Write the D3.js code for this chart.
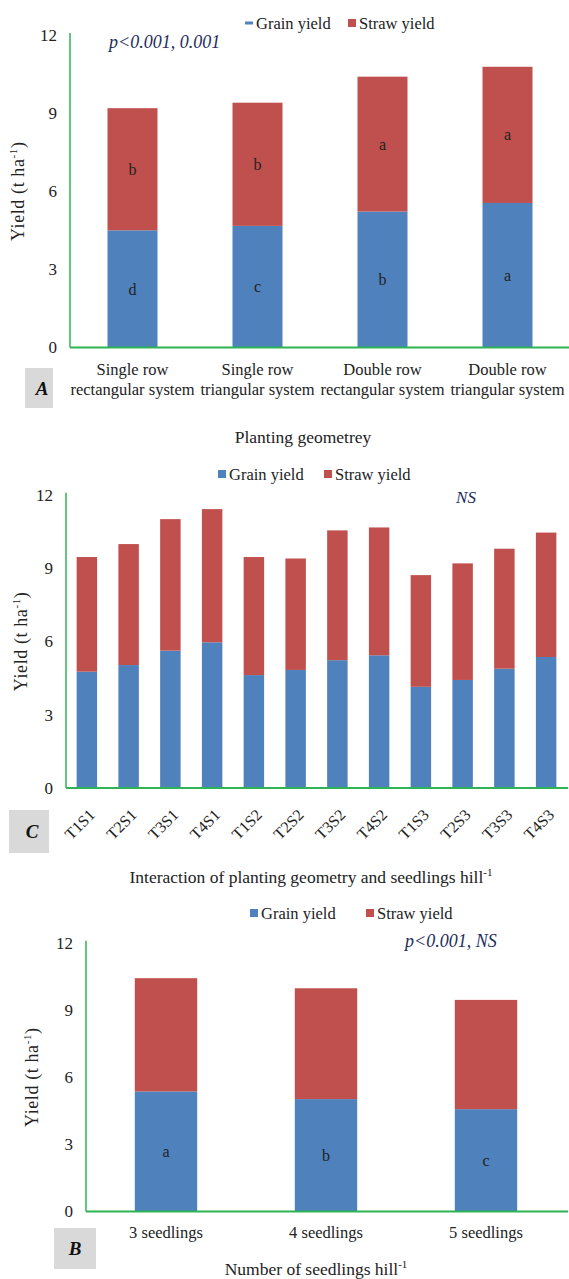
<!DOCTYPE html>
<html>
<head>
<meta charset="utf-8">
<script src="https://cdn.jsdelivr.net/npm/d3@7"></script>
<style>
  html, body { margin: 0; padding: 0; background: #fff; }
  svg { display: block; }
  text { font-family: "Liberation Serif", "Times New Roman", serif; fill: #222; }
</style>
</head>
<body>
<svg id="chart" width="569" height="1279"></svg>
<script>
// Yield (t ha-1) split into grain and straw, three panels
const yTicks = [0, 3, 6, 9, 12];
const seriesNames = ["Grain yield", "Straw yield"];
const seriesColors = ["#4f81bd", "#c0504d"];

// Panel A: planting geometry
const geometryCats = [
  ["Single row", "rectangular system"],
  ["Single row", "triangular system"],
  ["Double row", "rectangular system"],
  ["Double row", "triangular system"]
];
const geometryGrain = [4.50, 4.67, 5.22, 5.55];
const geometryStraw = [4.69, 4.73, 5.18, 5.23];
const geometryGrainLetters = ["d", "c", "b", "a"];
const geometryStrawLetters = ["b", "b", "a", "a"];

// Panel C: interaction of geometry and seedlings per hill
const interactionCats = ["T1S1", "T2S1", "T3S1", "T4S1", "T1S2", "T2S2",
                         "T3S2", "T4S2", "T1S3", "T2S3", "T3S3", "T4S3"];
const interactionGrain = [4.76, 5.03, 5.62, 5.96, 4.62, 4.83, 5.23, 5.43, 4.14, 4.42, 4.88, 5.36];
const interactionStraw = [4.69, 4.95, 5.38, 5.45, 4.83, 4.56, 5.31, 5.23, 4.57, 4.77, 4.91, 5.09];

// Panel B: seedlings per hill
const seedlingCats = ["3 seedlings", "4 seedlings", "5 seedlings"];
const seedlingGrain = [5.36, 5.02, 4.57];
const seedlingStraw = [5.06, 4.95, 4.88];
const seedlingGrainLetters = ["a", "b", "c"];

const svg = d3.select("#chart");

function drawPanel(p) {
  const g = svg.append("g");
  const x = d3.scaleBand().domain(p.cats.map((c, i) => i)).range([p.left, p.right]).padding(0);
  const y = d3.scaleLinear().domain([0, 12]).range([p.y0, p.y12]);
  const bw = x.bandwidth() * p.barFrac;
  const bx = i => x(i) + (x.bandwidth() - bw) / 2;
  const cx = i => x(i) + x.bandwidth() / 2;

  // stacked bars
  const rows = p.cats.map((c, i) => ({ i, grain: p.grain[i], straw: p.straw[i] }));
  const stacked = d3.stack().keys(["grain", "straw"])(rows);
  stacked.forEach((layer, k) => {
    g.selectAll(null).data(layer).join("rect")
      .attr("x", d => bx(d.data.i))
      .attr("width", bw)
      .attr("y", d => y(d[1]))
      .attr("height", d => y(d[0]) - y(d[1]))
      .attr("fill", seriesColors[k]);
  });

  // significance letters at the middle of each segment
  if (p.grainLetters) {
    g.selectAll(null).data(rows).join("text")
      .attr("x", d => cx(d.i)).attr("y", d => y(d.grain / 2))
      .attr("dy", "0.35em").attr("text-anchor", "middle")
      .attr("font-size", 16).text(d => p.grainLetters[d.i]);
  }
  if (p.strawLetters) {
    g.selectAll(null).data(rows).join("text")
      .attr("x", d => cx(d.i)).attr("y", d => y(d.grain + d.straw / 2))
      .attr("dy", "0.35em").attr("text-anchor", "middle")
      .attr("font-size", 16).text(d => p.strawLetters[d.i]);
  }

  // axes lines
  g.append("line").attr("x1", p.left).attr("x2", p.left)
    .attr("y1", p.y0).attr("y2", p.y12 - 2)
    .attr("stroke", "#2fb455").attr("stroke-width", 1.5);
  g.append("line").attr("x1", p.left).attr("x2", p.axisEnd)
    .attr("y1", p.y0).attr("y2", p.y0)
    .attr("stroke", "#2fb455").attr("stroke-width", 2);

  // y tick labels
  g.selectAll(null).data(yTicks).join("text")
    .attr("x", p.left - 13).attr("y", d => y(d)).attr("dy", "0.35em")
    .attr("text-anchor", "end").attr("font-size", 17).text(d => d);

  // y title
  const yt = g.append("text")
    .attr("transform", `translate(${p.yTitleX},${(p.y0 + p.y12) / 2}) rotate(-90)`)
    .attr("text-anchor", "middle").attr("font-size", 18).attr("letter-spacing", 0.6);
  yt.append("tspan").text("Yield  (t ha");
  yt.append("tspan").attr("font-size", 11).attr("dy", -7).text("-1");
  yt.append("tspan").attr("dy", 7).text(")");

  // legend
  const lg = g.append("g");
  seriesNames.forEach((name, k) => {
    const lx = p.legend[k];
    if (k === 0 && p.dashMarker) {
      lg.append("rect").attr("x", lx).attr("y", p.legendY - 1.5).attr("width", 8).attr("height", 3)
        .attr("fill", seriesColors[k]);
    } else {
      lg.append("rect").attr("x", lx).attr("y", p.legendY - 4).attr("width", 8).attr("height", 8)
        .attr("fill", seriesColors[k]);
    }
    lg.append("text").attr("x", lx + 11).attr("y", p.legendY).attr("dy", "0.35em")
      .attr("font-size", 16.5).text(name);
  });

  // panel tag
  g.append("rect").attr("x", p.tag.x).attr("y", p.tag.y).attr("width", p.tag.w).attr("height", p.tag.h)
    .attr("fill", "#d9d9d9");
  g.append("text").attr("x", p.tag.tx).attr("y", p.tag.y + p.tag.h / 2).attr("dy", "0.35em")
    .attr("text-anchor", "middle").attr("font-size", 19).attr("font-weight", "bold")
    .attr("font-style", "italic").style("fill", "#111").text(p.tag.label);

  return { g, x, cx };
}

// ---- Panel A
const A = drawPanel({
  cats: geometryCats, grain: geometryGrain, straw: geometryStraw,
  grainLetters: geometryGrainLetters, strawLetters: geometryStrawLetters,
  left: 70, right: 570, axisEnd: 569, y0: 347.5, y12: 35, barFrac: 0.4,
  yTitleX: 24, legend: [245, 348], legendY: 23, dashMarker: true,
  tag: { x: 25, y: 368, w: 28, h: 40, tx: 42, label: "A" }
});
A.g.selectAll(null).data(geometryCats).join("text")
  .attr("x", (d, i) => A.cx(i)).attr("y", 375)
  .attr("text-anchor", "middle").attr("font-size", 16.5)
  .selectAll("tspan").data(d => d).join("tspan")
  .attr("x", function () { return d3.select(this.parentNode).attr("x"); })
  .attr("dy", (d, j) => j === 0 ? 0 : 20).text(d => d);
A.g.append("text").attr("x", 109).attr("y", 48).attr("font-size", 18)
  .attr("font-style", "italic").style("fill", "#1d2c5c").text("p<0.001, 0.001");
A.g.append("text").attr("x", 303).attr("y", 443).attr("text-anchor", "middle")
  .attr("font-size", 17.5).text("Planting geometrey");

// ---- Panel C
const C = drawPanel({
  cats: interactionCats, grain: interactionGrain, straw: interactionStraw,
  left: 66, right: 567, axisEnd: 568, y0: 788, y12: 494.7, barFrac: 0.49,
  yTitleX: 27, legend: [218, 324], legendY: 474, dashMarker: false,
  tag: { x: 9, y: 810, w: 40, h: 43, tx: 32, label: "C" }
});
C.g.selectAll(null).data(interactionCats).join("text")
  .attr("transform", (d, i) => `translate(${C.cx(i) + 5},${812}) rotate(-45)`)
  .attr("text-anchor", "end").attr("dy", "0.35em").attr("font-size", 16).text(d => d);
C.g.append("text").attr("x", 466).attr("y", 503).attr("text-anchor", "middle").attr("font-size", 17)
  .attr("font-style", "italic").style("fill", "#1d2c5c").text("NS");
const ct = C.g.append("text").attr("x", 311).attr("y", 883).attr("text-anchor", "middle").attr("font-size", 17.5);
ct.append("tspan").text("Interaction of planting geometry and seedlings hill");
ct.append("tspan").attr("font-size", 11).attr("dy", -7).text("-1");

// ---- Panel B
const B = drawPanel({
  cats: seedlingCats, grain: seedlingGrain, straw: seedlingStraw,
  grainLetters: seedlingGrainLetters,
  left: 86, right: 566, axisEnd: 568, y0: 1211.5, y12: 942.8, barFrac: 0.39,
  yTitleX: 38, legend: [250, 366], legendY: 913, dashMarker: false,
  tag: { x: 54, y: 1228, w: 42, h: 41, tx: 75, label: "B" }
});
B.g.selectAll(null).data(seedlingCats).join("text")
  .attr("x", (d, i) => B.cx(i)).attr("y", 1238)
  .attr("text-anchor", "middle").attr("font-size", 16.5).text(d => d);
B.g.append("text").attr("x", 405).attr("y", 947).attr("font-size", 18)
  .attr("font-style", "italic").style("fill", "#1d2c5c").text("p<0.001, NS");
const bt = B.g.append("text").attr("x", 316).attr("y", 1275).attr("text-anchor", "middle").attr("font-size", 17.5);
bt.append("tspan").text("Number  of seedlings hill");
bt.append("tspan").attr("font-size", 11).attr("dy", -7).text("-1");
</script>
</body>
</html>
